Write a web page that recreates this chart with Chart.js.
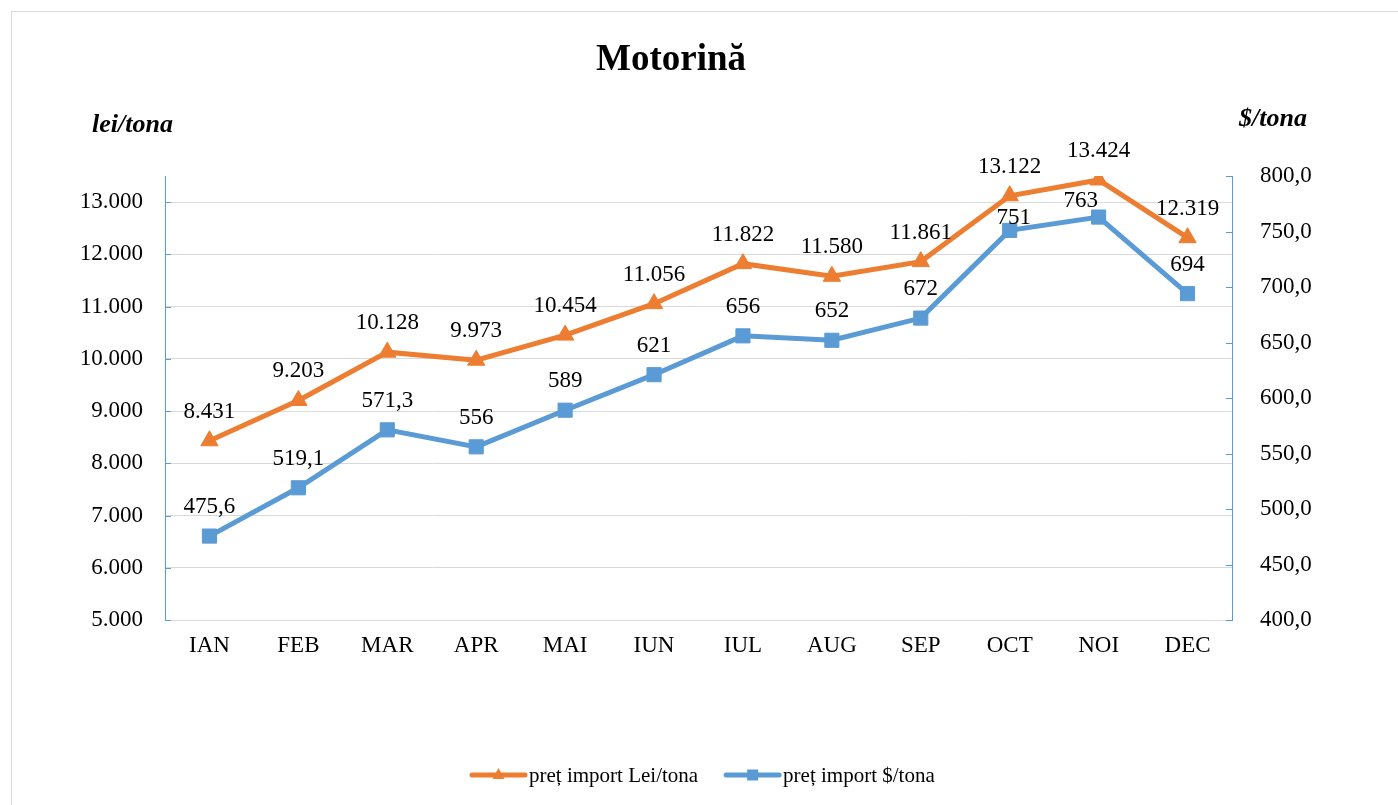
<!DOCTYPE html>
<html>
<head>
<meta charset="utf-8">
<script src="https://cdn.jsdelivr.net/npm/chart.js@4/dist/chart.umd.min.js"></script>
<style>
  body { margin: 0; background: #fff; }
  #frame { position: absolute; left: 11px; top: 11px; width: 1400px; height: 820px; border: 1px solid #d9d9d9; }
  #c { position: absolute; left: 0; top: 0; }
</style>
</head>
<body>
<div id="frame"></div>
<canvas id="c" width="1398" height="805"></canvas>
<script>
// luni
const months = ['IAN', 'FEB', 'MAR', 'APR', 'MAI', 'IUN', 'IUL', 'AUG', 'SEP', 'OCT', 'NOI', 'DEC'];
// pret import lei/tona
const leiTona = [8431, 9203, 10128, 9973, 10454, 11056, 11822, 11580, 11861, 13122, 13424, 12319];
// pret import $/tona
const usdTona = [475.6, 519.1, 571.3, 556, 589, 621, 656, 652, 672, 751, 763, 694];
// tick values of the lei axis (axis itself runs up to 13.500)
const leiTicks = [5000, 6000, 7000, 8000, 9000, 10000, 11000, 12000, 13000];

const ORANGE = '#ed7d31';
const BLUE = '#5b9bd5';
const SERIF = "'Liberation Serif', 'Times New Roman', serif";

const fmtLei = v => String(Math.round(v)).replace(/\B(?=(\d{3})+(?!\d))/g, '.');
const fmtUsd = v => (v % 1 ? v.toFixed(1) : String(v)).replace('.', ',');

// label offsets (dx, dy of baseline from point) - default is above the point
const labelShift = {
  1: { 9: [4, -6], 10: [-18, -10] }
};

const extras = {
  id: 'extras',
  afterDatasetsDraw(chart) {
    const ctx = chart.ctx;
    const area = chart.chartArea;
    ctx.save();

    // small tick marks inside both value axes
    ctx.strokeStyle = BLUE;
    ctx.lineWidth = 1;
    chart.scales.y.ticks.forEach(t => {
      const y = Math.round(chart.scales.y.getPixelForValue(t.value)) + 0.5;
      ctx.beginPath(); ctx.moveTo(area.left, y); ctx.lineTo(area.left + 6, y); ctx.stroke();
    });
    chart.scales.y1.ticks.forEach(t => {
      const y = Math.round(chart.scales.y1.getPixelForValue(t.value)) + 0.5;
      ctx.beginPath(); ctx.moveTo(area.right - 6, y); ctx.lineTo(area.right, y); ctx.stroke();
    });

    // data labels
    ctx.font = '23px ' + SERIF;
    ctx.fillStyle = '#000';
    ctx.textAlign = 'center';
    ctx.textBaseline = 'alphabetic';
    chart.data.datasets.forEach((ds, di) => {
      const meta = chart.getDatasetMeta(di);
      meta.data.forEach((pt, i) => {
        const s = (labelShift[di] && labelShift[di][i]) || [0, -23];
        const txt = di === 0 ? fmtLei(ds.data[i]) : fmtUsd(ds.data[i]);
        ctx.fillText(txt, pt.x + s[0], pt.y + s[1]);
      });
    });

    // title and axis titles
    ctx.font = 'bold 37px ' + SERIF;
    ctx.fillText('Motorină', 671, 70);
    ctx.font = 'italic bold 26px ' + SERIF;
    ctx.textAlign = 'left';
    ctx.fillText('lei/tona', 92, 132);
    ctx.fillText('$/tona', 1239, 126);

    // legend
    const items = [
      { text: 'preț import Lei/tona', color: ORANGE, marker: 'triangle' },
      { text: 'preț import $/tona', color: BLUE, marker: 'rect' }
    ];
    let x = 472;
    const ly = 775;
    ctx.font = '21px ' + SERIF;
    ctx.textBaseline = 'middle';
    items.forEach(it => {
      ctx.strokeStyle = it.color;
      ctx.fillStyle = it.color;
      ctx.lineWidth = 5;
      ctx.lineCap = 'round';
      ctx.beginPath(); ctx.moveTo(x, ly); ctx.lineTo(x + 53, ly); ctx.stroke();
      const cx = x + 26.5;
      ctx.beginPath();
      if (it.marker === 'triangle') {
        ctx.moveTo(cx, ly - 7); ctx.lineTo(cx + 6, ly + 4); ctx.lineTo(cx - 6, ly + 4);
      } else {
        ctx.rect(cx - 5.5, ly - 5.5, 11, 11);
      }
      ctx.closePath(); ctx.fill();
      ctx.fillStyle = '#000';
      ctx.fillText(it.text, x + 57, ly + 1);
      x += 57 + ctx.measureText(it.text).width + 28;
    });
    ctx.restore();
  }
};

new Chart(document.getElementById('c'), {
  type: 'line',
  data: {
    labels: months,
    datasets: [
      {
        label: 'preț import Lei/tona',
        data: leiTona,
        yAxisID: 'y',
        borderColor: ORANGE,
        backgroundColor: ORANGE,
        borderWidth: 5,
        pointStyle: 'triangle',
        pointRadius: 10,
        pointBorderWidth: 1,
        tension: 0
      },
      {
        label: 'preț import $/tona',
        data: usdTona,
        yAxisID: 'y1',
        borderColor: BLUE,
        backgroundColor: BLUE,
        borderWidth: 5,
        pointStyle: 'rect',
        pointRadius: 10,
        pointBorderWidth: 1,
        tension: 0
      }
    ]
  },
  options: {
    responsive: false,
    devicePixelRatio: 1,
    animation: false,
    layout: { padding: { top: 176, left: 0, right: 0, bottom: 0 } },
    plugins: {
      legend: { display: false },
      title: { display: false },
      tooltip: { enabled: false }
    },
    scales: {
      x: {
        offset: true,
        grid: { display: false, drawTicks: false },
        border: { color: '#d9d9d9', width: 1 },
        ticks: { color: '#000', font: { family: SERIF, size: 23 }, padding: 12, maxRotation: 0 },
        afterFit: s => { s.height = 185; }
      },
      y: {
        position: 'left',
        min: 5000,
        max: 13500,
        grid: { color: '#d9d9d9', lineWidth: 1, drawTicks: false },
        border: { color: BLUE, width: 1 },
        ticks: {
          color: '#000',
          font: { family: SERIF, size: 23 },
          padding: 22,
          callback: v => fmtLei(v)
        },
        afterBuildTicks: s => { s.ticks = leiTicks.map(v => ({ value: v })); },
        afterFit: s => { s.width = 165; }
      },
      y1: {
        position: 'right',
        min: 400,
        max: 800,
        grid: { drawOnChartArea: false, drawTicks: false },
        border: { color: BLUE, width: 1 },
        ticks: {
          stepSize: 50,
          color: '#000',
          font: { family: SERIF, size: 23 },
          padding: 28,
          callback: v => v.toFixed(1).replace('.', ',')
        },
        afterFit: s => { s.width = 166; }
      }
    }
  },
  plugins: [extras]
});
</script>
</body>
</html>
